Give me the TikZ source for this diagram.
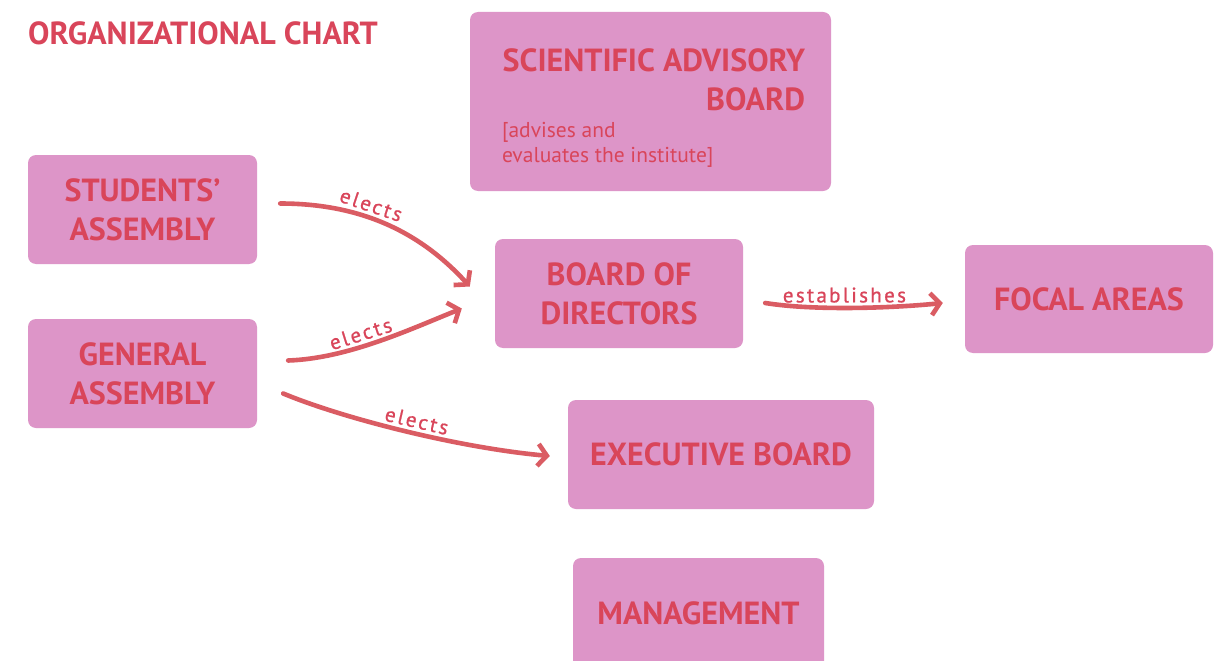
\documentclass[tikz,border=0pt]{standalone}
\usepackage{fontspec}
\setmainfont{PT Sans}
\usetikzlibrary{arrows.meta}
\definecolor{boxpink}{HTML}{DD95C8}
\definecolor{txtred}{HTML}{D9455A}
\definecolor{arrred}{HTML}{DA5C63}
\begin{document}
\begin{tikzpicture}[x=1pt,y=-1pt,
  box/.style={fill=boxpink, rounded corners=8pt, inner sep=0pt, text=txtred,
    font=\fontsize{32}{39}\selectfont\bfseries, align=center},
  plain/.style={inner sep=0pt, text=txtred},
  arr/.style={draw=arrred, line width=4.6pt, line cap=round,
    -{Straight Barb[length=9pt,width=22pt]}},
  lbl/.style={text=txtred, inner sep=3pt, font=\fontsize{21}{23}\selectfont\addfontfeature{LetterSpace=11,FakeBold=0.8}}]
\useasboundingbox (0,0) rectangle (1224,661);
\fill[white] (0,0) rectangle (1224,661);

\node[plain, anchor=west, font=\fontsize{32}{36}\selectfont\bfseries] (title) at (28,33) {ORGANIZATIONAL CHART};

\node[box, minimum width=361, minimum height=179] (sab) at (650.5,101.5) {};
\node[plain, anchor=north east, align=right, font=\fontsize{32}{39}\selectfont\bfseries] (sabt) at ([shift={(-26,37)}]sab.north east) {SCIENTIFIC ADVISORY\\BOARD};
\node[plain, anchor=north west, align=left, font=\fontsize{21.5}{25}\selectfont] (sabs) at ([shift={(32,110)}]sab.north west) {[advises and\\evaluates the institute]};

\node[box, minimum width=229, minimum height=109] (sa) at (142.5,209.5) {STUDENTS’\\ASSEMBLY};
\node[box, minimum width=229, minimum height=109] (ga) at (142.5,373.5) {GENERAL\\ASSEMBLY};
\node[box, minimum width=248, minimum height=109] (bod) at (619,293.5) {BOARD OF\\DIRECTORS};
\node[box, minimum width=248, minimum height=108] (fa) at (1089,299) {\raisebox{-2pt}{FOCAL AREAS}};
\node[box, minimum width=306, minimum height=109] (eb) at (721,454.5) {\raisebox{-2pt}{EXECUTIVE BOARD}};
\node[box, minimum width=251, minimum height=128] (mg) at (698.5,622) {\raisebox{18pt}{MANAGEMENT}};

\draw[arr] ([shift={(23,-6)}]sa.east) .. controls +(80,0) and +(-50,-55) .. ([shift={(-25,-7)}]bod.west)
  node[lbl, pos=0.4, sloped, above] {elects};
\draw[arr] ([shift={(31,-13)}]ga.east) .. controls +(60,-2) and +(-50,20) .. ([shift={(-33,15)}]bod.west)
  node[lbl, pos=0.42, sloped, above] {elects};
\draw[arr] ([shift={(26,20)}]ga.east) .. controls +(60,25) and +(-90,-8) .. ([shift={(-18,1.5)}]eb.west)
  node[lbl, pos=0.53, sloped, above] {elects};
\draw[arr] ([shift={(22,9.5)}]bod.east) .. controls +(50,8) and +(-50,5) .. ([shift={(-22,4)}]fa.west)
  node[lbl, pos=0.45, sloped, above] {establishes};
\end{tikzpicture}
\end{document}
